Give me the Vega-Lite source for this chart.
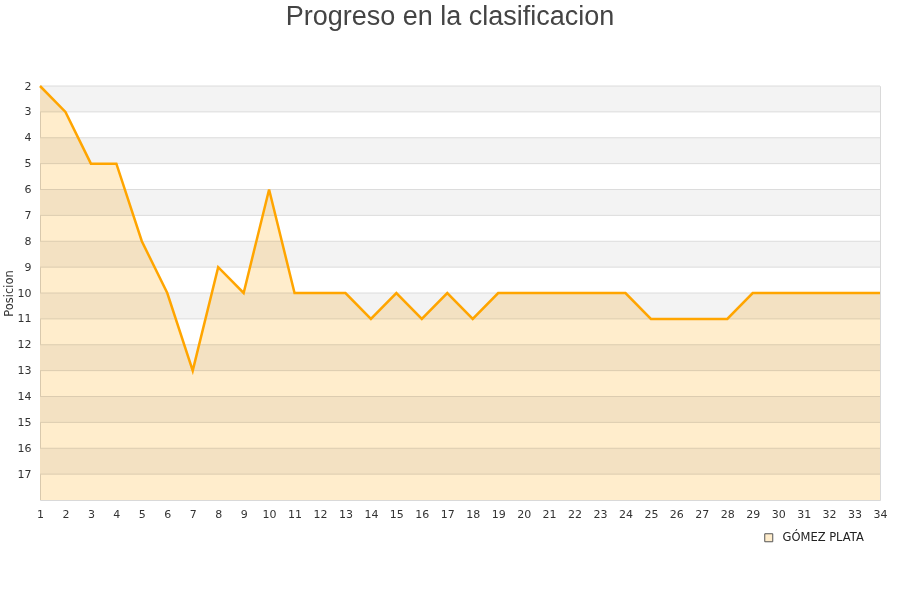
{
  "$schema": "https://vega.github.io/schema/vega-lite/v6.json",
  "autosize": "none",
  "width": 840,
  "height": 414,
  "padding": {"left": 40, "top": 86, "right": 20, "bottom": 100},
  "background": "white",
  "config": {
    "view": {"stroke": "#d9d9d9", "strokeWidth": 1},
    "axis": {"labelFont": "DejaVu Sans", "labelFontSize": 11, "labelColor": "#333", "titleFont": "DejaVu Sans", "titleColor": "#333", "titleFontWeight": "normal", "labelOverlap": false, "grid": false, "ticks": false, "domain": false}
  },
  "title": {
    "text": "Progreso en la clasificacion",
    "font": "Liberation Sans",
    "fontSize": 27,
    "fontWeight": "normal",
    "color": "#444",
    "anchor": "middle",
    "dx": -10,
    "offset": 49
  },
  "datasets": {
    "posiciones": [
      {"jornada": 1, "posicion": 2, "equipo": "GÓMEZ PLATA"},
      {"jornada": 2, "posicion": 3, "equipo": "GÓMEZ PLATA"},
      {"jornada": 3, "posicion": 5, "equipo": "GÓMEZ PLATA"},
      {"jornada": 4, "posicion": 5, "equipo": "GÓMEZ PLATA"},
      {"jornada": 5, "posicion": 8, "equipo": "GÓMEZ PLATA"},
      {"jornada": 6, "posicion": 10, "equipo": "GÓMEZ PLATA"},
      {"jornada": 7, "posicion": 13, "equipo": "GÓMEZ PLATA"},
      {"jornada": 8, "posicion": 9, "equipo": "GÓMEZ PLATA"},
      {"jornada": 9, "posicion": 10, "equipo": "GÓMEZ PLATA"},
      {"jornada": 10, "posicion": 6, "equipo": "GÓMEZ PLATA"},
      {"jornada": 11, "posicion": 10, "equipo": "GÓMEZ PLATA"},
      {"jornada": 12, "posicion": 10, "equipo": "GÓMEZ PLATA"},
      {"jornada": 13, "posicion": 10, "equipo": "GÓMEZ PLATA"},
      {"jornada": 14, "posicion": 11, "equipo": "GÓMEZ PLATA"},
      {"jornada": 15, "posicion": 10, "equipo": "GÓMEZ PLATA"},
      {"jornada": 16, "posicion": 11, "equipo": "GÓMEZ PLATA"},
      {"jornada": 17, "posicion": 10, "equipo": "GÓMEZ PLATA"},
      {"jornada": 18, "posicion": 11, "equipo": "GÓMEZ PLATA"},
      {"jornada": 19, "posicion": 10, "equipo": "GÓMEZ PLATA"},
      {"jornada": 20, "posicion": 10, "equipo": "GÓMEZ PLATA"},
      {"jornada": 21, "posicion": 10, "equipo": "GÓMEZ PLATA"},
      {"jornada": 22, "posicion": 10, "equipo": "GÓMEZ PLATA"},
      {"jornada": 23, "posicion": 10, "equipo": "GÓMEZ PLATA"},
      {"jornada": 24, "posicion": 10, "equipo": "GÓMEZ PLATA"},
      {"jornada": 25, "posicion": 11, "equipo": "GÓMEZ PLATA"},
      {"jornada": 26, "posicion": 11, "equipo": "GÓMEZ PLATA"},
      {"jornada": 27, "posicion": 11, "equipo": "GÓMEZ PLATA"},
      {"jornada": 28, "posicion": 11, "equipo": "GÓMEZ PLATA"},
      {"jornada": 29, "posicion": 10, "equipo": "GÓMEZ PLATA"},
      {"jornada": 30, "posicion": 10, "equipo": "GÓMEZ PLATA"},
      {"jornada": 31, "posicion": 10, "equipo": "GÓMEZ PLATA"},
      {"jornada": 32, "posicion": 10, "equipo": "GÓMEZ PLATA"},
      {"jornada": 33, "posicion": 10, "equipo": "GÓMEZ PLATA"},
      {"jornada": 34, "posicion": 10, "equipo": "GÓMEZ PLATA"}
    ],
    "franjas": [
      {"desde": 2, "hasta": 3},
      {"desde": 4, "hasta": 5},
      {"desde": 6, "hasta": 7},
      {"desde": 8, "hasta": 9},
      {"desde": 10, "hasta": 11},
      {"desde": 12, "hasta": 13},
      {"desde": 14, "hasta": 15},
      {"desde": 16, "hasta": 17}
    ]
  },
  "layer": [
    {
      "data": {"name": "franjas"},
      "mark": {"type": "rect", "color": "#f3f3f3"},
      "encoding": {
        "y": {
          "field": "desde", "type": "quantitative",
          "scale": {"domain": [2, 18], "reverse": true, "nice": false, "zero": false},
          "axis": {"title": "Posicion", "titleFontSize": 11.5, "titlePadding": 3, "values": [2,3,4,5,6,7,8,9,10,11,12,13,14,15,16,17], "labelPadding": 9}
        },
        "y2": {"field": "hasta"}
      }
    },
    {
      "data": {"name": "franjas"},
      "mark": {"type": "rule", "color": "#dcdcdc", "strokeWidth": 1},
      "encoding": {"y": {"field": "desde", "type": "quantitative", "axis": {"title": "Posicion", "titleFontSize": 11.5, "titlePadding": 3, "values": [2,3,4,5,6,7,8,9,10,11,12,13,14,15,16,17], "labelPadding": 9}}}
    },
    {
      "data": {"name": "franjas"},
      "mark": {"type": "rule", "color": "#dcdcdc", "strokeWidth": 1},
      "encoding": {"y": {"field": "hasta", "type": "quantitative", "axis": {"title": "Posicion", "titleFontSize": 11.5, "titlePadding": 3, "values": [2,3,4,5,6,7,8,9,10,11,12,13,14,15,16,17], "labelPadding": 9}}}
    },
    {
      "data": {"name": "posiciones"},
      "mark": {"type": "area", "blend": "multiply"},
      "encoding": {
        "x": {
          "field": "jornada", "type": "quantitative",
          "scale": {"domain": [1, 34], "nice": false, "zero": false},
          "axis": {"title": null, "values": [1,2,3,4,5,6,7,8,9,10,11,12,13,14,15,16,17,18,19,20,21,22,23,24,25,26,27,28,29,30,31,32,33,34], "labelPadding": 8, "labelFlush": false}
        },
        "y": {"field": "posicion", "type": "quantitative", "axis": {"title": "Posicion", "titleFontSize": 11.5, "titlePadding": 3, "values": [2,3,4,5,6,7,8,9,10,11,12,13,14,15,16,17], "labelPadding": 9}},
        "y2": {"datum": 18},
        "color": {
          "field": "equipo", "type": "nominal",
          "scale": {"range": ["#ffedcc"]},
          "legend": {
            "title": null, "orient": "none", "legendX": 723, "legendY": 446,
            "symbolType": "square", "symbolSize": 64, "symbolStrokeColor": "#555", "symbolStrokeWidth": 1, "symbolOpacity": 1,
            "labelFont": "DejaVu Sans", "labelFontSize": 11.5, "labelColor": "#222", "labelOffset": 8,
            "encode": {"symbols": {"update": {"stroke": {"value": "#555"}, "strokeWidth": {"value": 1}, "opacity": {"value": 1}}}}
          }
        }
      }
    },
    {
      "data": {"name": "posiciones"},
      "mark": {"type": "line", "color": "#ffa500", "strokeWidth": 2.5},
      "encoding": {
        "x": {"field": "jornada", "type": "quantitative", "axis": {"title": null, "values": [1,2,3,4,5,6,7,8,9,10,11,12,13,14,15,16,17,18,19,20,21,22,23,24,25,26,27,28,29,30,31,32,33,34], "labelPadding": 8, "labelFlush": false}},
        "y": {"field": "posicion", "type": "quantitative", "axis": {"title": "Posicion", "titleFontSize": 11.5, "titlePadding": 3, "values": [2,3,4,5,6,7,8,9,10,11,12,13,14,15,16,17], "labelPadding": 9}}
      }
    }
  ]
}
